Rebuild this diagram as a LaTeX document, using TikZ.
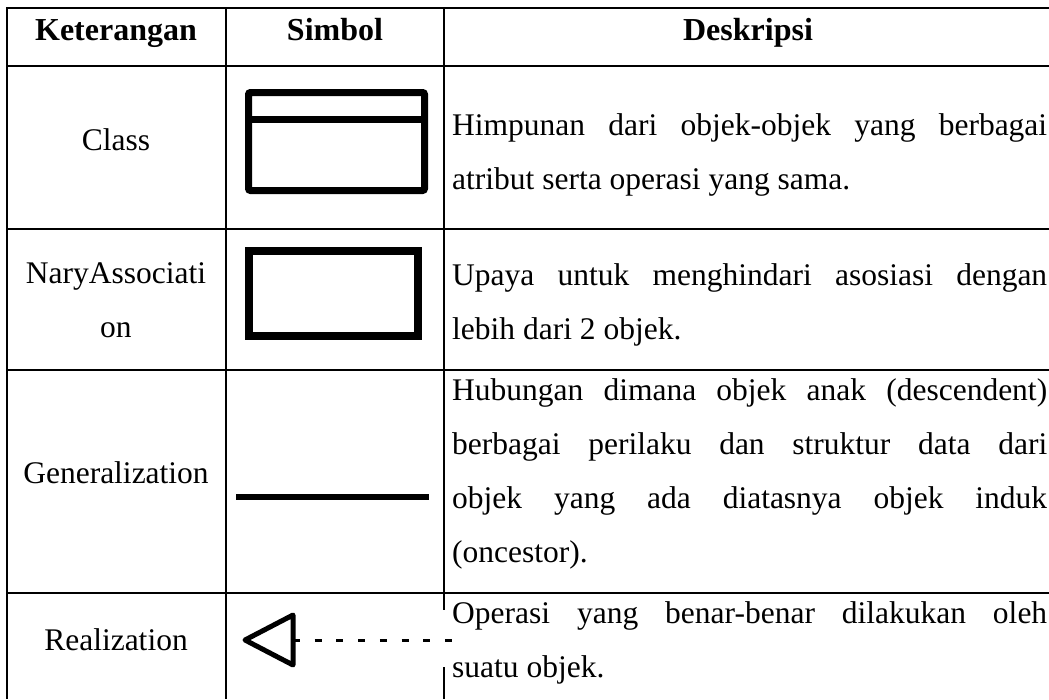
\documentclass[tikz,border=0pt]{standalone}
\usepackage{fontspec}
\setmainfont{Liberation Serif}
\usepackage{tikz}

\tikzset{
  grid/.style={line width=2.2pt},
  bodytext/.style={font=\fontsize{31.5}{54}\selectfont, inner sep=0pt},
  headtext/.style={font=\fontsize{32}{38}\selectfont\bfseries, inner sep=0pt, anchor=base},
  desc/.style={bodytext, anchor=base west, text width=595pt, align=justify},
  label/.style={bodytext, anchor=base, align=center}
}

\begin{document}
\begin{tikzpicture}[x=1pt, y=-1pt]
        \useasboundingbox (0, 0) rectangle (1049, 699);
        \fill [white] (0, 0) rectangle (1049, 699);
        % Table lines
        \draw [grid] (7, 8) -- (1049, 8);
        \draw [grid] (7, 66) -- (1049, 66);
        \draw [grid] (7, 229) -- (1049, 229);
        \draw [grid] (7, 370) -- (1049, 370);
        \draw [grid] (7, 593) -- (1049, 593);
        \draw [grid] (7, 7) -- (7, 699);
        \draw [grid] (226, 7) -- (226, 699);
        \draw [grid] (444, 7) -- (444, 610);
        \draw [grid] (444, 667) -- (444, 699);
        % Header
        \node [headtext] (hket) at (116, 40) {Keterangan};
        \node [headtext] (hsim) at (335, 40) {Simbol};
        \node [headtext] (hdes) at (748, 40) {Deskripsi};
        % Names
        \node [label] (lclass) at (116, 150) {Class};
        \node [label] (lnary) at (116, 337) {NaryAssociati\\on};
        \node [label] (lgen) at (116, 483) {Generalization};
        \node [label] (lreal) at (116, 650) {Realization};
        % Symbols
        \draw [line width=7pt, rounded corners=2pt] (248.5, 92.5) rectangle (424.5, 190.5);
        \draw [line width=7pt] (248.5, 119) -- (424.5, 119);
        \draw [line width=8pt] (248.5, 251) rectangle (417.5, 336);
        \draw [line width=6pt] (236, 497) -- (429, 497);
        \coordinate (tip) at (245, 640);
        \coordinate (back) at (293, 640);
        \coordinate (tail) at (453, 640);
        \draw [line width=5pt, line join=round] (tip) -- (293, 615) -- (293, 665) -- cycle;
        \draw [line width=3pt, dash pattern=on 7pt off 14.7pt] (back) -- (tail);
        % Descriptions
        \node [desc] (dclass) at (452, 135) {Himpunan dari objek-objek yang berbagai\linebreak atribut serta operasi yang sama.};
        \node [desc] (dnary) at (452, 285) {Upaya untuk menghindari asosiasi dengan\linebreak lebih dari 2 objek.};
        \node [desc] (dgen) at (452, 400) {Hubungan dimana objek anak (descendent)\linebreak berbagai perilaku dan struktur data dari\linebreak objek yang ada diatasnya objek induk\linebreak (oncestor).};
        \node [desc] (dreal) at (452, 623) {Operasi yang benar-benar dilakukan oleh\linebreak suatu objek.};
    \end{tikzpicture}
\end{document}
